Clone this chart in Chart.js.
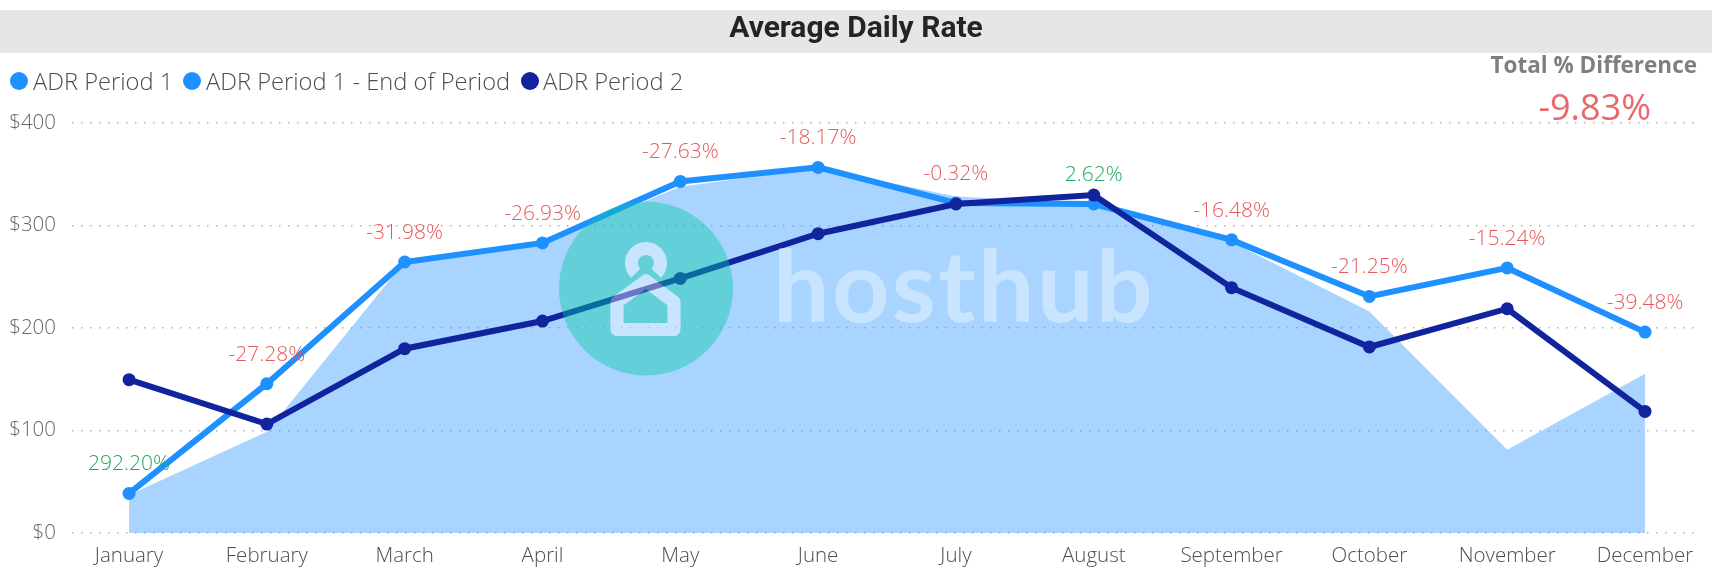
<!DOCTYPE html>
<html>
<head>
<meta charset="utf-8">
<title>Average Daily Rate</title>
<script src="https://cdn.jsdelivr.net/npm/chart.js@4/dist/chart.umd.min.js"></script>
<style>
  html, body { margin: 0; padding: 0; background: #fff; overflow: hidden; }
  #wrap { position: relative; width: 1712px; height: 577px; }
  canvas { position: absolute; left: 0; top: 0; }
</style>
</head>
<body>
<div id="wrap"><canvas id="chartAdr" width="1712" height="577"></canvas></div>
<script>
// data
const months = ['January', 'February', 'March', 'April', 'May', 'June', 'July', 'August', 'September', 'October', 'November', 'December'];
const adrPeriod1 = [38.6, 145.7, 264.4, 283, 343, 356.7, 322, 321, 286, 230.8, 258.6, 196];
const adrEndOfPeriod = [37, 98.8, 265, 283, 337.8, 356, 328.4, 322, 284, 216, 81.3, 155.4];
const adrPeriod2 = [149.6, 106.3, 179.8, 206.8, 248.4, 292, 321, 329.7, 239.3, 181.5, 218.8, 118.6];
const diffLabels = ['292.20%', '-27.28%', '-31.98%', '-26.93%', '-27.63%', '-18.17%', '-0.32%', '2.62%', '-16.48%', '-21.25%', '-15.24%', '-39.48%'];
const yTicks = [0, 100, 200, 300, 400];

const warnaBiru = '#1E90FF';
const warnaArea = 'rgba(30,144,255,0.39)';
const warnaTua = '#12239E';
const warnaMerah = '#E8696B';
const warnaMerahLabel = '#E65A5C';
const warnaHijauLabel = '#22A85C';
const fontBody = "'Open Sans', sans-serif";

const toPoints = arr => arr.map((v, i) => ({ x: i, y: v }));

// title bar, legend and the card on the right
const headerPlugin = {
  id: 'header',
  beforeDraw(chart) {
    const c = chart.ctx;
    c.save();
    c.fillStyle = '#E6E6E6';
    c.fillRect(0, 10, 1712, 43);
    c.fillStyle = '#252423';
    c.font = "bold 30px 'Roboto', sans-serif";
    c.textAlign = 'center';
    c.textBaseline = 'middle';
    c.fillText('Average Daily Rate', 856, 29);

    c.textAlign = 'left';
    c.font = '300 23.7px ' + fontBody;
    [['ADR Period 1', 19, warnaBiru, 33], ['ADR Period 1 - End of Period', 192, warnaBiru, 206], ['ADR Period 2', 530, warnaTua, 543]].forEach(([t, cx, col, tx]) => {
      c.fillStyle = col;
      c.beginPath();
      c.arc(cx, 81, 9, 0, Math.PI * 2);
      c.fill();
      c.fillStyle = '#504E4C';
      c.fillText(t, tx, 83);
    });

    c.textAlign = 'right';
    c.fillStyle = '#7F7F7F';
    c.font = "bold 22.5px " + fontBody;
    c.fillText('Total % Difference', 1697, 67);
    c.fillStyle = warnaMerah;
    c.font = '36px ' + fontBody;
    c.fillText('-9.83%', 1651, 110);
    c.restore();
  }
};

// percent labels sit above the Period 1 points
const labelPlugin = {
  id: 'diffLabels',
  afterDatasetsDraw(chart) {
    const c = chart.ctx;
    const sx = chart.scales.x, sy = chart.scales.y;
    c.save();
    c.font = '300 21px ' + fontBody;
    c.textAlign = 'center';
    c.textBaseline = 'middle';
    diffLabels.forEach((t, i) => {
      c.fillStyle = t.startsWith('-') ? warnaMerahLabel : warnaHijauLabel;
      c.fillText(t, sx.getPixelForValue(i), sy.getPixelForValue(adrPeriod1[i]) - 29);
    });
    c.restore();
  }
};

// house icon of the logo, used both as hole and as fill
function drawIcon(c) {
  c.lineWidth = 13;
  c.lineJoin = 'round';
  c.beginPath();
  c.moveTo(617, 329.5);
  c.lineTo(674, 329.5);
  c.lineTo(674, 302);
  c.lineTo(646, 281);
  c.lineTo(617, 302);
  c.closePath();
  c.stroke();
  c.beginPath();
  c.arc(646, 263, 14.5, Math.PI * 0.75, Math.PI * 0.25);
  c.stroke();
}

// hosthub logo over the chart
const watermarkPlugin = {
  id: 'watermark',
  afterDraw(chart) {
    const c = chart.ctx;
    const off = document.createElement('canvas');
    off.width = 1712;
    off.height = 577;
    const o = off.getContext('2d');
    o.fillStyle = 'rgba(5,203,165,0.42)';
    o.beginPath();
    o.arc(646, 288.5, 87, 0, Math.PI * 2);
    o.fill();
    o.globalCompositeOperation = 'destination-out';
    o.strokeStyle = '#000';
    drawIcon(o);

    c.save();
    c.drawImage(off, 0, 0);
    c.strokeStyle = 'rgba(255,255,255,0.38)';
    drawIcon(c);
    c.fillStyle = 'rgba(255,255,255,0.38)';
    c.font = "bold 100px 'Lato', sans-serif";
    c.letterSpacing = '2.5px';
    c.textAlign = 'left';
    c.textBaseline = 'alphabetic';
    c.fillText('hosthub', 773, 322);
    c.restore();
  }
};

new Chart(document.getElementById('chartAdr'), {
  type: 'line',
  data: {
    datasets: [
      { label: 'ADR Period 2', data: toPoints(adrPeriod2), borderColor: warnaTua, backgroundColor: warnaTua, borderWidth: 6, pointRadius: 6.5, pointBackgroundColor: warnaTua, pointBorderWidth: 0, tension: 0, order: 1 },
      { label: 'ADR Period 1', data: toPoints(adrPeriod1), borderColor: warnaBiru, backgroundColor: warnaBiru, borderWidth: 6, pointRadius: 6.5, pointBackgroundColor: warnaBiru, pointBorderWidth: 0, tension: 0, order: 2 },
      { label: 'ADR Period 1 - End of Period', data: toPoints(adrEndOfPeriod), borderWidth: 0, backgroundColor: warnaArea, pointRadius: 0, fill: 'origin', tension: 0, order: 3 }
    ]
  },
  options: {
    responsive: false,
    animation: false,
    layout: { padding: { left: 0, right: 16, top: 123, bottom: 0 } },
    plugins: { legend: { display: false }, tooltip: { enabled: false } },
    scales: {
      x: {
        type: 'linear',
        min: -0.414,
        max: 11.37,
        afterFit: axis => { axis.height = 44; },
        afterBuildTicks: axis => { axis.ticks = months.map((m, i) => ({ value: i })); },
        border: { display: false },
        grid: { display: false },
        ticks: {
          autoSkip: false,
          maxRotation: 0,
          padding: 3,
          color: '#504E4C',
          font: { family: fontBody, size: 20.5, weight: '300' },
          callback: v => months[v]
        }
      },
      y: {
        min: 0,
        max: 400,
        afterFit: axis => { axis.width = 72; },
        afterBuildTicks: axis => { axis.ticks = yTicks.map(v => ({ value: v })); },
        border: { display: false, dash: [1.5, 7.5] },
        grid: { color: '#B4B4B4', lineWidth: 1.5, drawTicks: false },
        ticks: {
          padding: 16,
          color: '#666666',
          font: { family: fontBody, size: 20.5, weight: '300' },
          callback: v => '$' + v
        }
      }
    }
  },
  plugins: [headerPlugin, labelPlugin, watermarkPlugin]
});
</script>
</body>
</html>
